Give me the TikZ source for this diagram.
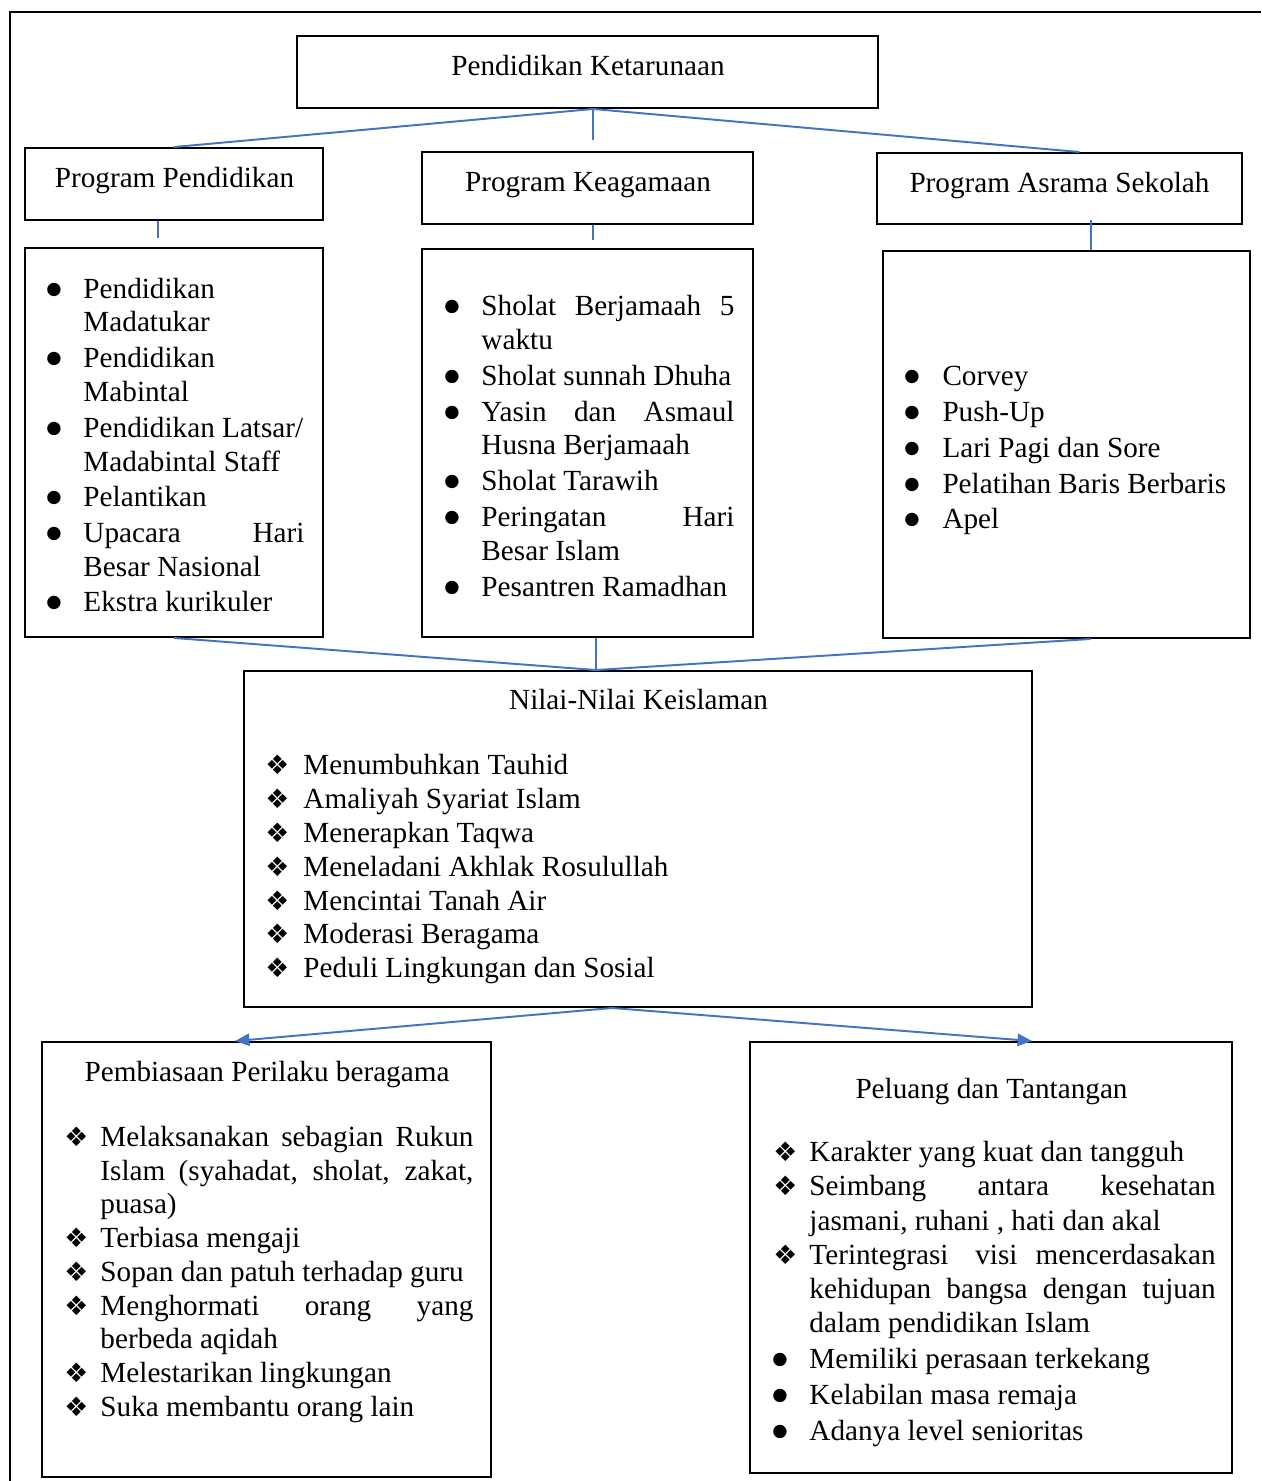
\documentclass[tikz,border=0pt]{standalone}
\usepackage{fontspec}
\setmainfont{Liberation Serif}
\newfontfamily\dejavu{DejaVu Sans}
\usetikzlibrary{fit,calc,arrows.meta}
\definecolor{connblue}{RGB}{68,114,196}
\newcounter{ln}
\newcommand\myline[3]{\stepcounter{ln}\node[txt] (t\theln) at (#1,#2) {#3};}
\newcommand\myjust[4]{\stepcounter{ln}\node[txt] (t\theln) at (#1,#2) {\makebox[#3][s]{#4}};}
\newcommand\mybul[2]{\stepcounter{ln}\node[txt,font=\dejavu\fontsize{7.2}{9}\selectfont] (b\theln) at ({#1+1},{#2-4}) {●};}
\newcommand\mydia[2]{\stepcounter{ln}\node[txt,font=\dejavu\fontsize{11}{13}\selectfont] (d\theln) at (#1,#2) {❖};}
\begin{document}
\begin{tikzpicture}[x=0.411pt,y=-0.411pt,
  box/.style={draw, line width=0.8pt, inner sep=0pt},
  txt/.style={anchor=base west, inner sep=0pt, font=\fontsize{12}{14}\selectfont},
  ttl/.style={anchor=base, inner sep=0pt, font=\fontsize{12}{14}\selectfont},
  conn/.style={draw=connblue, line width=0.8pt},
  arr/.style={conn, -{Triangle[length=6pt,width=5pt]}}]
\useasboundingbox (0,0) rectangle (1261,1481);
% outer frame
\draw[line width=1.2pt] (1261,12) -- (10,12) -- (10,1481);
% boxes
\node[box, fit={(297,36)(878,108)}] (top) {};
\node[box, fit={(25,148)(323,220)}] (pp) {};
\node[box, fit={(422,152)(753,224)}] (pk) {};
\node[box, fit={(877,153)(1242,224)}] (pa) {};
\node[box, fit={(25,248)(323,637)}] (l1) {};
\node[box, fit={(422,249)(753,637)}] (l2) {};
\node[box, fit={(883,251)(1250,638)}] (l3) {};
\node[box, fit={(244,671)(1032,1007)}] (nilai) {};
\node[box, fit={(42,1042)(491,1477)}] (pb) {};
\node[box, fit={(750,1042)(1232,1473)}] (pt) {};
% titles
\node[ttl] (ttop) at (588,75) {Pendidikan Ketarunaan};
\node[ttl] (tpp) at (174.5,187) {Program Pendidikan};
\node[ttl] (tpk) at (588,191) {Program Keagamaan};
\node[ttl] (tpa) at (1059.5,192) {Program Asrama Sekolah};
\node[ttl] (tnilai) at (638.5,709) {Nilai-Nilai Keislaman};
\node[ttl] (tpb) at (267,1081) {Pembiasaan Perilaku beragama};
\node[ttl] (tpt) at (991.5,1098) {Peluang dan Tantangan};
% connectors top
\coordinate (hub) at ([xshift=2.3pt]top.south);
\draw[conn] (hub) -- (pp.north);
\draw[conn, shorten >=4.5pt] (hub) -- (hub |- pk.north);
\draw[conn] (hub) -- ([xshift=8.2pt]pa.north);
\draw[conn, shorten >=3.7pt] ([xshift=-6.6pt]pp.south) -- ([xshift=-6.6pt]l1.north);
\draw[conn, shorten >=3.3pt] (hub |- pk.south) -- (hub |- l2.north);
\draw[conn] ([xshift=13pt,yshift=2pt]pa.south) -- ([xshift=13pt]pa.south |- l3.north);
% connectors to nilai
\coordinate (nh) at ([xshift=-17.3pt]nilai.north);
\draw[conn] (l1.south) -- (nh);
\draw[conn] (nh |- l2.south) -- (nh);
\draw[conn] ([xshift=9.9pt]l3.south) -- (nh);
% arrows
\coordinate (nb) at ([xshift=-10.7pt]nilai.south);
\draw[arr] (nb) -- ([xshift=-13pt]pb.north);
\draw[arr] (nb) -- ([xshift=16.9pt]pt.north);
% list 1
\mybul{45}{298}\myline{83}{298}{Pendidikan}
\myline{83}{331}{Madatukar}
\mybul{45}{367}\myline{83}{367}{Pendidikan}
\myline{83}{401}{Mabintal}
\mybul{45}{437}\myline{83}{437}{Pendidikan Latsar/}
\myline{83}{471}{Madabintal Staff}
\mybul{45}{506}\myline{83}{506}{Pelantikan}
\mybul{45}{542}\myjust{83}{542}{90.8pt}{Upacara Hari}
\myline{83}{576}{Besar Nasional}
\mybul{45}{611}\myline{83}{611}{Ekstra kurikuler}
% list 2
\mybul{443}{315}\myjust{481}{315}{104pt}{Sholat Berjamaah 5}
\myline{481}{349}{waktu}
\mybul{443}{385}\myline{481}{385}{Sholat sunnah Dhuha}
\mybul{443}{421}\myjust{481}{421}{104pt}{Yasin dan Asmaul}
\myline{481}{454}{Husna Berjamaah}
\mybul{443}{490}\myline{481}{490}{Sholat Tarawih}
\mybul{443}{526}\myjust{481}{526}{104pt}{Peringatan Hari}
\myline{481}{560}{Besar Islam}
\mybul{443}{596}\myline{481}{596}{Pesantren Ramadhan}
% list 3
\mybul{903}{385}\myline{942}{385}{Corvey}
\mybul{903}{421}\myline{942}{421}{Push-Up}
\mybul{903}{457}\myline{942}{457}{Lari Pagi dan Sore}
\mybul{903}{493}\myline{942}{493}{Pelatihan Baris Berbaris}
\mybul{903}{528}\myline{942}{528}{Apel}
% nilai
\mydia{265}{774}\myline{303}{774}{Menumbuhkan Tauhid}
\mydia{265}{808}\myline{303}{808}{Amaliyah Syariat Islam}
\mydia{265}{842}\myline{303}{842}{Menerapkan Taqwa}
\mydia{265}{876}\myline{303}{876}{Meneladani Akhlak Rosulullah}
\mydia{265}{910}\myline{303}{910}{Mencintai Tanah Air}
\mydia{265}{943}\myline{303}{943}{Moderasi Beragama}
\mydia{265}{977}\myline{303}{977}{Peduli Lingkungan dan Sosial}
% pembiasaan
\mydia{64}{1146}\myjust{100}{1146}{153.3pt}{Melaksanakan sebagian Rukun}
\myjust{100}{1180}{153.3pt}{Islam (syahadat, sholat, zakat,}
\myline{100}{1213}{puasa)}
\mydia{64}{1247}\myline{100}{1247}{Terbiasa mengaji}
\mydia{64}{1281}\myline{100}{1281}{Sopan dan patuh terhadap guru}
\mydia{64}{1315}\myjust{100}{1315}{153.3pt}{Menghormati orang yang}
\myline{100}{1348}{berbeda aqidah}
\mydia{64}{1382}\myline{100}{1382}{Melestarikan lingkungan}
\mydia{64}{1416}\myline{100}{1416}{Suka membantu orang lain}
% peluang
\mydia{773}{1161}\myline{809}{1161}{Karakter yang kuat dan tangguh}
\mydia{773}{1195}\myjust{809}{1195}{166.9pt}{Seimbang antara kesehatan}
\myline{809}{1230}{jasmani, ruhani , hati dan akal}
\mydia{773}{1264}\myjust{809}{1264}{166.9pt}{Terintegrasi\hspace{0.3em} visi mencerdasakan}
\myjust{809}{1298}{166.9pt}{kehidupan bangsa dengan tujuan}
\myline{809}{1332}{dalam pendidikan Islam}
\mybul{771}{1368}\myline{809}{1368}{Memiliki perasaan terkekang}
\mybul{771}{1404}\myline{809}{1404}{Kelabilan masa remaja}
\mybul{771}{1440}\myline{809}{1440}{Adanya level senioritas}
\end{tikzpicture}
\end{document}
